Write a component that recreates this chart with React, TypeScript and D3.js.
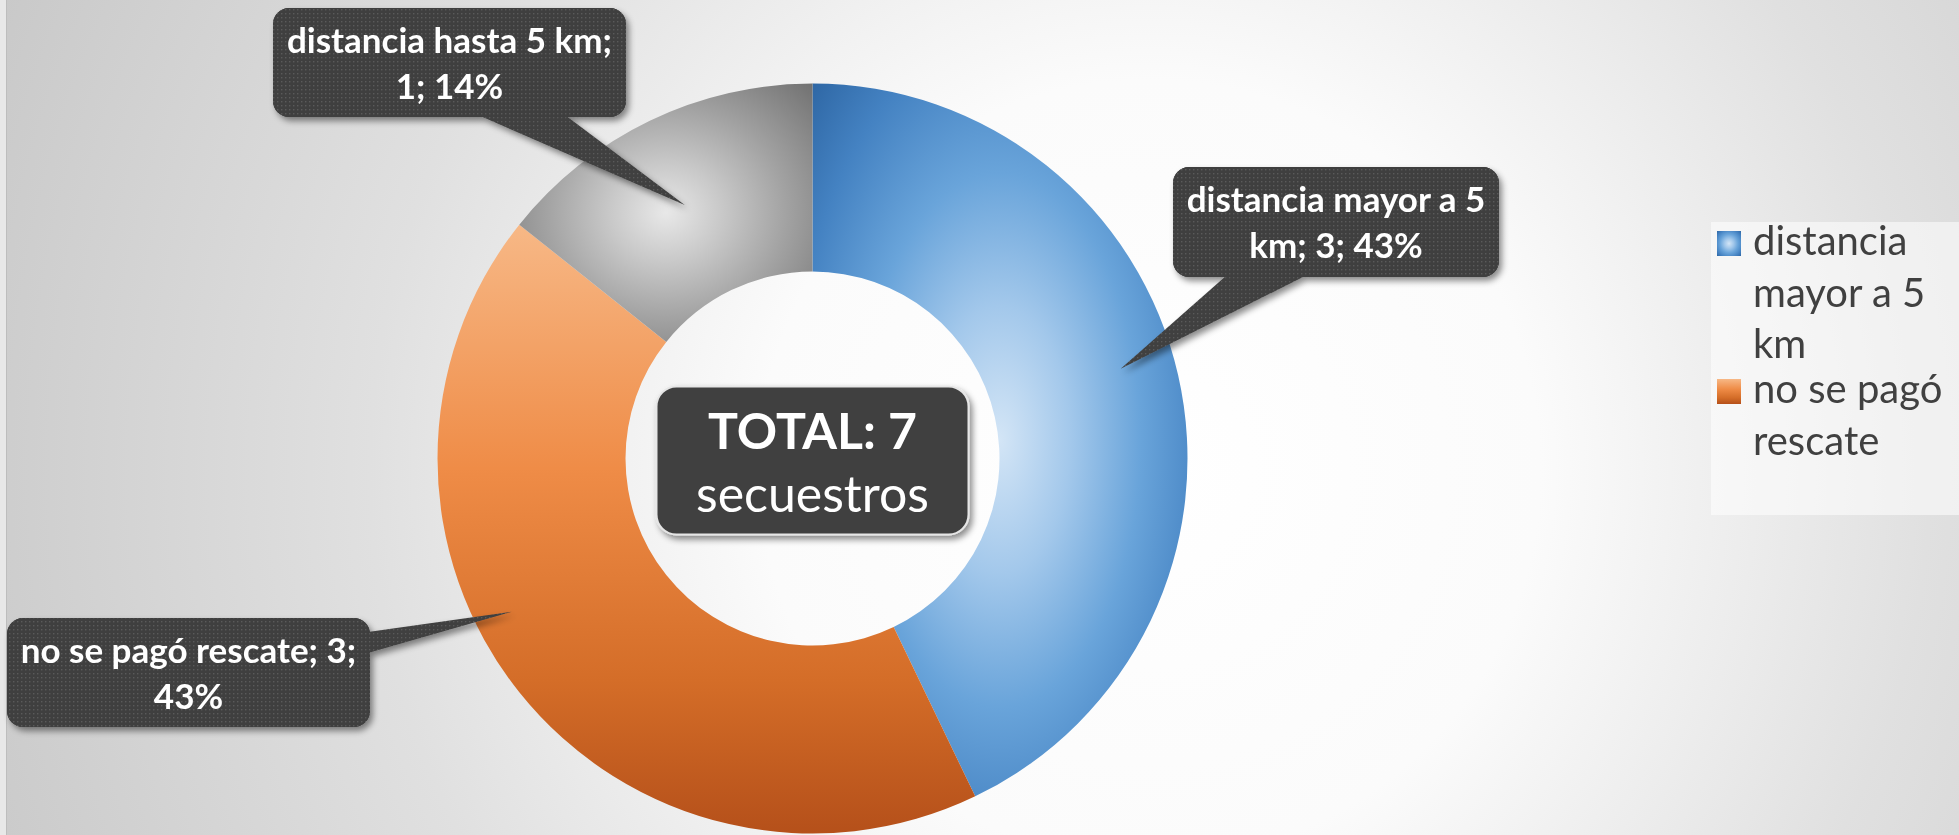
import React from "react";
import * as d3 from "d3";

// ---- data ----
const categories = ["distancia mayor a 5 km", "no se pagó rescate", "distancia hasta 5 km"];
const values = [3, 3, 1];
const totalWord = "TOTAL";
const unitWord = "secuestros";

// ---- layout ----
const W = 1959;
const H = 835;
const CX = 812.5;
const CY = 458.5;
const R_OUT = 375;
const R_IN = 187;
const FONT = "Lato, 'Open Sans', sans-serif";

// callout boxes: [x, y, w, h]; pointer base; tip as [fraction along slice, fraction of outer radius]
const calloutLayout = [
  { box: [1173, 167, 326, 110], side: "bottom", base: [1227, 1307], tip: [0.478, 0.856], firstLineWords: 4 },
  { box: [7, 618, 363, 109], side: "right", base: [632, 653], tip: [0.575, 0.9], firstLineWords: 5 },
  { box: [273, 8, 353, 109], side: "bottom", base: [478, 565], tip: [0.48, 0.757], firstLineWords: 4 },
];
// legend: entries that fit in the legend box (Excel drops the ones that overflow)
const legendLayout = { x: 1711, y: 222, w: 248, h: 293, markerX: 1717, textX: 1753, lineH: 51.5, firstBaselines: [255, 403], wordsPerLine: [[1, 3, 1], [3, 1]] };

const fillIds = ["gBlue", "gOrange", "gGrey"];

function wrapWords(text: string, counts: number[]) {
  const words = text.split(" ");
  const lines: string[] = [];
  let i = 0;
  counts.forEach((c) => {
    lines.push(words.slice(i, i + c).join(" "));
    i += c;
  });
  if (i < words.length) lines.push(words.slice(i).join(" "));
  return lines;
}

export default function App() {
  const total = d3.sum(values);
  const pie = d3.pie<number>().sort(null).startAngle(0).endAngle(2 * Math.PI);
  const arcs = pie(values);
  const arcGen = d3.arc<d3.PieArcDatum<number>>().innerRadius(R_IN).outerRadius(R_OUT);

  const callouts = arcs.map((a, i) => {
    const L = calloutLayout[i];
    const ang = a.startAngle + L.tip[0] * (a.endAngle - a.startAngle);
    const r = L.tip[1] * R_OUT;
    const tx = CX + r * Math.sin(ang);
    const ty = CY - r * Math.cos(ang);
    const [bx, by, bw, bh] = L.box;
    let poly: [number, number][];
    if (L.side === "bottom") {
      poly = [[L.base[0], by + bh - 2], [L.base[1], by + bh - 2], [tx, ty]];
    } else {
      poly = [[bx + bw - 2, L.base[0]], [bx + bw - 2, L.base[1]], [tx, ty]];
    }
    const pct = Math.round((values[i] / total) * 100);
    const text = `${categories[i]}; ${values[i]}; ${pct}%`;
    const words = text.split(" ");
    const lines = [words.slice(0, L.firstLineWords).join(" "), words.slice(L.firstLineWords).join(" ")];
    return { bx, by, bw, bh, poly, lines };
  });

  const legendEntries = legendLayout.wordsPerLine.map((wpl, i) => ({
    name: categories[i],
    lines: wrapWords(categories[i], wpl),
    baseline: legendLayout.firstBaselines[i],
    fill: fillIds[i],
  }));

  return (
    <svg
      width={W}
      height={H}
      style={{ position: "fixed", left: 0, top: 0, display: "block" }}
      fontFamily={FONT}
    >
      <defs>
        <radialGradient id="bg" gradientUnits="userSpaceOnUse" cx={1150} cy={470} r={1300}>
          <stop offset="0" stopColor="#ffffff" />
          <stop offset="0.3" stopColor="#fbfbfb" />
          <stop offset="0.6" stopColor="#e0e0e0" />
          <stop offset="1" stopColor="#c6c6c6" />
        </radialGradient>
        <radialGradient id="gBlue" cx="0.5" cy="0.5" r="0.75">
          <stop offset="0" stopColor="#d3e5f6" />
          <stop offset="0.25" stopColor="#a3c8eb" />
          <stop offset="0.5" stopColor="#69a4da" />
          <stop offset="0.75" stopColor="#4482c2" />
          <stop offset="1" stopColor="#285f9c" />
        </radialGradient>
        <linearGradient id="gOrange" x1="0" y1="0" x2="0" y2="1">
          <stop offset="0" stopColor="#f7b886" />
          <stop offset="0.4" stopColor="#ef8c47" />
          <stop offset="0.75" stopColor="#d46d28" />
          <stop offset="1" stopColor="#b5501a" />
        </linearGradient>
        <radialGradient id="gGrey" cx="0.5" cy="0.5" r="0.75">
          <stop offset="0" stopColor="#e8e8e8" />
          <stop offset="0.25" stopColor="#c9c9c9" />
          <stop offset="0.55" stopColor="#a2a2a2" />
          <stop offset="1" stopColor="#6a6a6a" />
        </radialGradient>
        <pattern id="dots" patternUnits="userSpaceOnUse" width={4} height={4}>
          <rect width={4} height={4} fill="#3f3f3f" />
          <rect x={1} y={1} width={1.4} height={1.4} fill="#5a5a5a" />
        </pattern>
        <filter id="shadow" x="-20%" y="-20%" width="140%" height="150%">
          <feDropShadow dx={3} dy={4} stdDeviation={3} floodColor="#000" floodOpacity={0.45} />
        </filter>
      </defs>

      {/* background */}
      <rect x={0} y={0} width={W} height={H} fill="url(#bg)" />
      <rect x={0} y={0} width={6} height={H} fill="#e8e8e8" />
      <line x1={6.5} y1={0} x2={6.5} y2={H} stroke="#bdbdbd" strokeWidth={1} />

      {/* donut */}
      <g transform={`translate(${CX},${CY})`}>
        {arcs.map((a, i) => (
          <path key={i} d={arcGen(a) || ""} fill={`url(#${fillIds[i]})`} />
        ))}
      </g>

      {/* center total box */}
      <g filter="url(#shadow)">
        <rect x={CX - 156} y={CY - 72} width={312} height={148} rx={20} ry={20} fill="#404040" stroke="#e6e6e6" strokeWidth={2} />
      </g>
      <text x={CX} y={CY - 10} textAnchor="middle" fill="#ffffff" fontWeight={700} fontSize={50}>
        {`${totalWord}: ${total}`}
      </text>
      <text x={CX} y={CY + 53} textAnchor="middle" fill="#ffffff" fontWeight={400} fontSize={50}>
        {unitWord}
      </text>

      {/* callouts */}
      {callouts.map((c, i) => (
        <g key={i}>
          <g filter="url(#shadow)">
            <rect x={c.bx} y={c.by} width={c.bw} height={c.bh} rx={16} ry={16} fill="url(#dots)" />
            <polygon points={c.poly.map((p) => p.join(",")).join(" ")} fill="url(#dots)" />
          </g>
          <rect x={c.bx} y={c.by} width={c.bw} height={c.bh} rx={16} ry={16} fill="url(#dots)" />
          {c.lines.map((ln, j) => (
            <text
              key={j}
              x={c.bx + c.bw / 2}
              y={c.by + 45 + j * 46}
              textAnchor="middle"
              fill="#ffffff"
              fontWeight={700}
              fontSize={35}
            >
              {ln}
            </text>
          ))}
        </g>
      ))}

      {/* legend */}
      <rect x={legendLayout.x} y={legendLayout.y} width={legendLayout.w} height={legendLayout.h} fill="#ffffff" fillOpacity={0.55} />
      {legendEntries.map((e, i) => (
        <g key={i}>
          <rect x={legendLayout.markerX} y={e.baseline - 24} width={24} height={25} fill={`url(#${e.fill})`} />
          {e.lines.map((ln, j) => (
            <text key={j} x={legendLayout.textX} y={e.baseline + j * legendLayout.lineH} fill="#404040" fontSize={40}>
              {ln}
            </text>
          ))}
        </g>
      ))}
    </svg>
  );
}
